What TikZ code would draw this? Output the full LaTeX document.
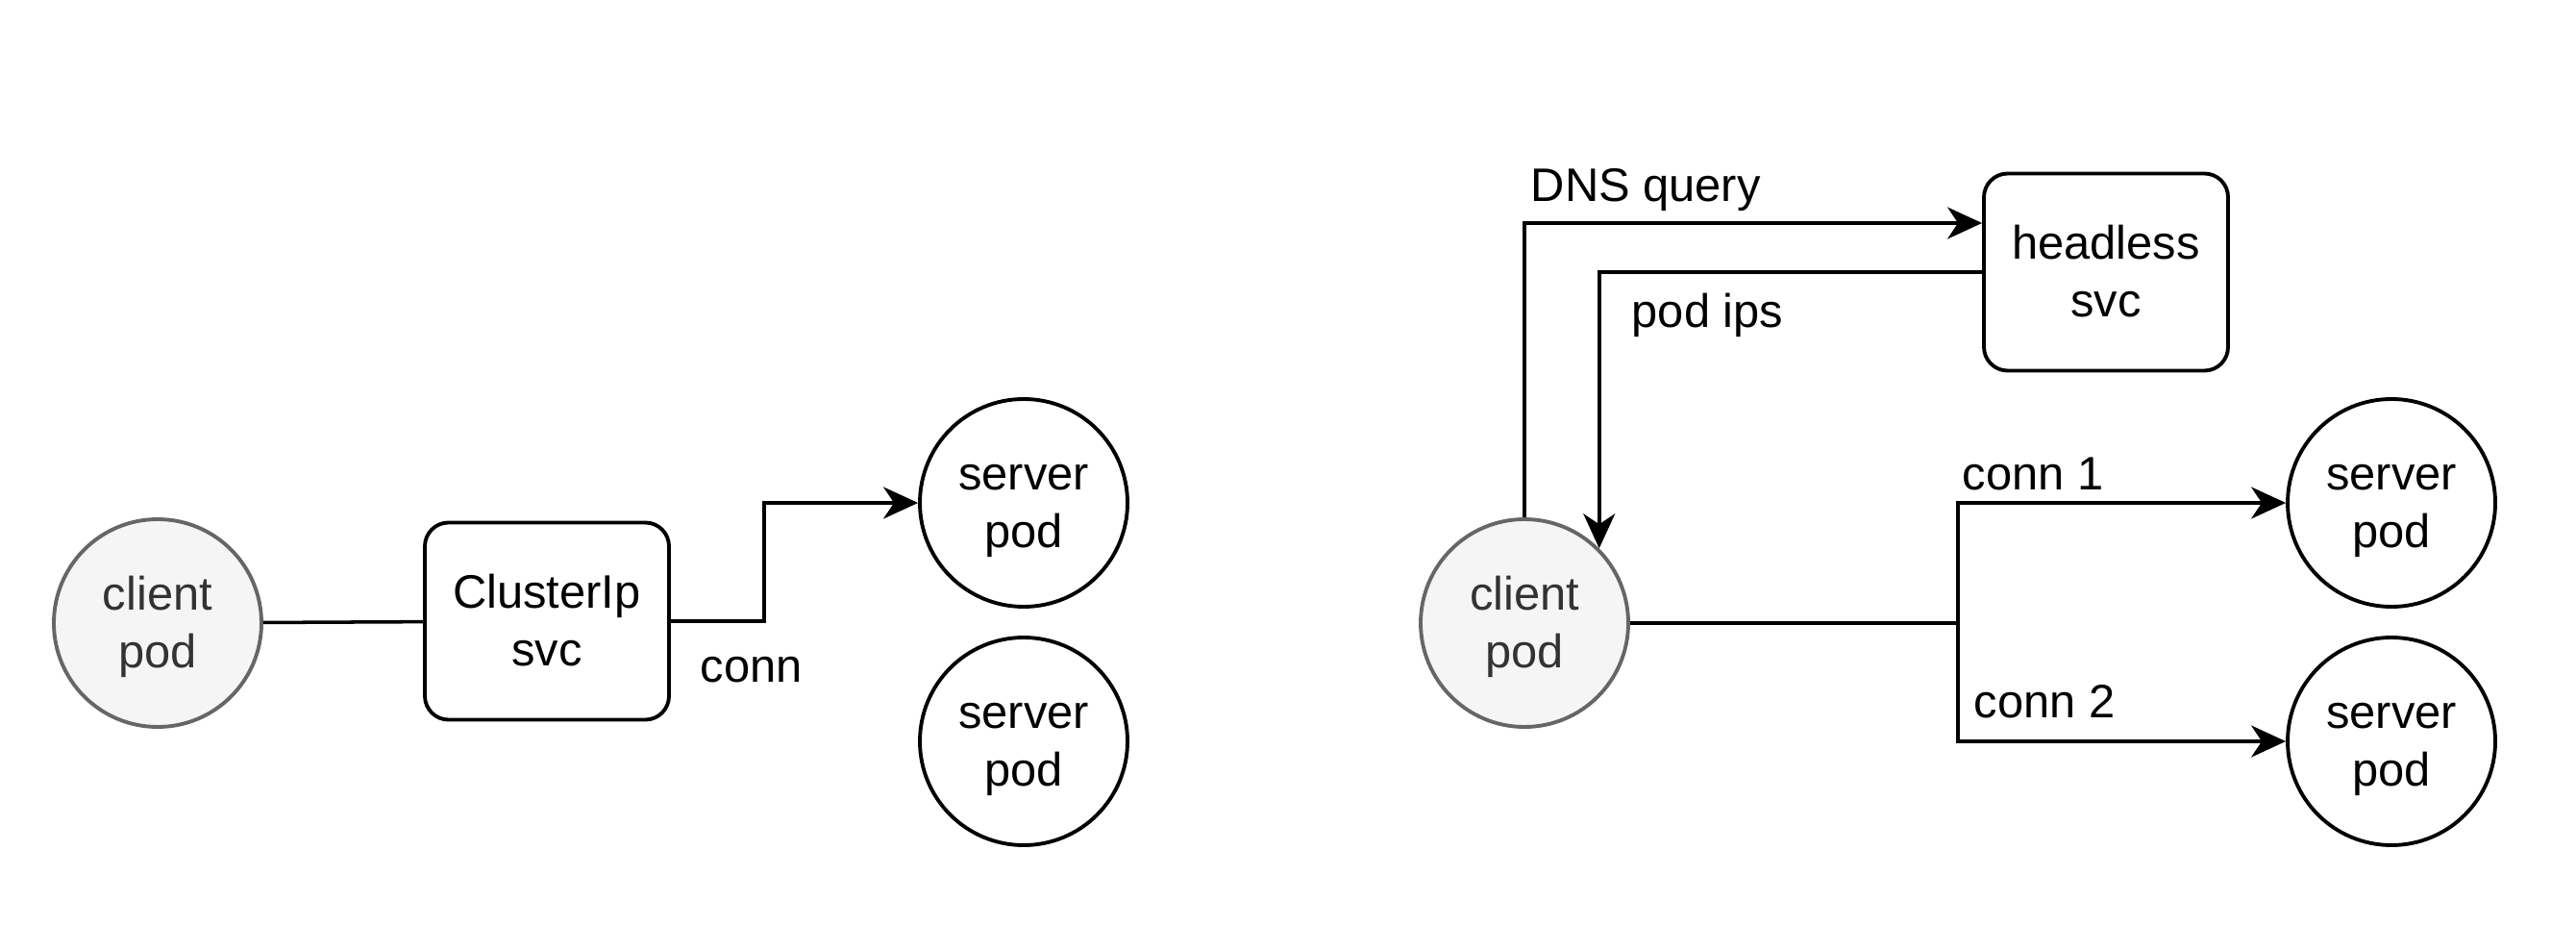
\documentclass[tikz,border=0pt]{standalone}
\usepackage{fontspec}
\setmainfont{Liberation Sans}
\usepackage{tikz}
\usetikzlibrary{arrows.meta,positioning}
\definecolor{podfill}{HTML}{F5F5F5}
\definecolor{podline}{HTML}{666666}
\definecolor{podtext}{HTML}{333333}
% two text lines of fixed height
\newcommand\twolines[2]{\rule[-3.9pt]{0pt}{17pt}#1\\\rule[-3.9pt]{0pt}{17pt}#2}

\begin{document}
\begin{tikzpicture}[
          every node/.style={font=\fontsize{13.9}{17}\selectfont},
          client/.style={circle,draw=podline,fill=podfill,text=podtext,
                         line width=1.1pt,minimum size=2.16cm,align=center,inner sep=0pt},
          server/.style={circle,draw,fill=white,line width=1.1pt,
                         minimum size=2.16cm,align=center,inner sep=0pt},
          svcbox/.style={draw,rounded corners=7pt,fill=white,line width=1.1pt,
                         minimum width=2.54cm,minimum height=2.05cm,align=center},
          lbl/.style={anchor=west,inner sep=0pt},
          conn/.style={line width=1pt},
          arr/.style={-{Stealth[length=3.6mm,width=3.3mm,inset=1.1mm]},line width=1pt}
      ]
        \useasboundingbox (0,0) rectangle (26.8,-9.62);

        % ClusterIP side
        \node[client] (clientL) at (1.64,-6.48) {\twolines{client}{pod}};
        \node[svcbox] (cip) at (5.69,-6.46) {\twolines{ClusterIp}{svc}};
        \node[server] (srvA) at (10.65,-5.23) {\twolines{server}{pod}};
        \node[server] (srvB) at (10.65,-7.71) {\twolines{server}{pod}};

        \draw[conn] (clientL) -- (cip);
        \draw[arr] (cip.east) -- ++(0.97,0) |- (srvA.west);
        \node[lbl] (connL) at (7.28,-6.97) {conn};

        % headless side
        \node[client] (clientR) at (15.86,-6.48) {\twolines{client}{pod}};
        \node[svcbox] (hsvc) at (21.91,-2.83) {\twolines{headless}{svc}};
        \node[server] (srvC) at (24.88,-5.23) {\twolines{server}{pod}};
        \node[server] (srvD) at (24.88,-7.71) {\twolines{server}{pod}};
        \coordinate (split) at (20.37,-6.48);

        \draw[arr] (clientR.north) |- ([yshift=5.1mm]hsvc.west);
        \node[lbl] (dnsL) at (15.92,-1.98) {DNS query};
        \draw[arr] (hsvc.west) -| (clientR.45);
        \node[lbl] (ipsL) at (16.97,-3.28) {pod ips};

        \draw[conn] (clientR.east) -- (split);
        \draw[arr] (split) |- (srvC.west);
        \draw[arr] (split) |- (srvD.west);
        \node[lbl] (conn1L) at (20.41,-4.93) {conn 1};
        \node[lbl] (conn2L) at (20.53,-7.30) {conn 2};
      \end{tikzpicture}
\end{document}
